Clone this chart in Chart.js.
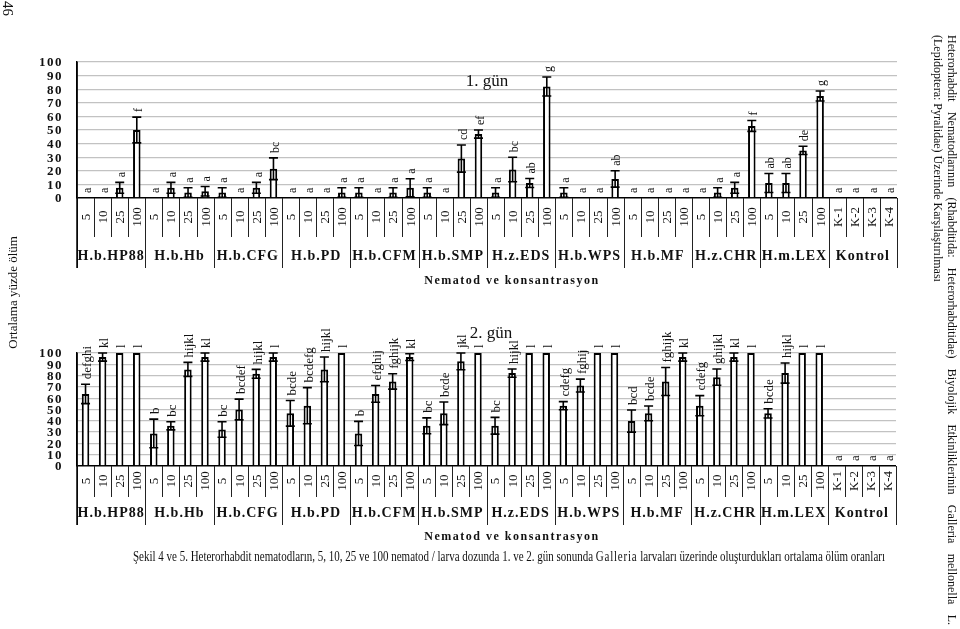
<!DOCTYPE html>
<html>
<head>
<meta charset="utf-8">
<script src="https://cdn.jsdelivr.net/npm/chart.js@4.4.0/dist/chart.umd.min.js"></script>
<style>
  body { margin:0; width:960px; height:629px; overflow:hidden; position:relative; background:#fff; color:#111; font-family:'Liberation Serif', serif; }
  canvas { position:absolute; left:0; }
  .t { position:absolute; white-space:nowrap; }
  .v { position:absolute; writing-mode:vertical-rl; white-space:nowrap; }
</style>
</head>
<body>
<canvas id="day1" width="960" height="300" style="top:0"></canvas>
<canvas id="day2" width="960" height="260" style="top:300px"></canvas>

<div class="v" style="left:0;top:1px;font-size:15px;line-height:16px">46</div>
<div class="v" style="left:5px;top:236px;font-size:13px;line-height:16px;transform:rotate(180deg)">Ortalama yüzde ölüm</div>
<div class="t" style="left:487px;top:81px;font-size:17px;transform:translate(-50%,-50%)">1. gün</div>
<div class="t" style="left:491px;top:333px;font-size:17px;transform:translate(-50%,-50%)">2. gün</div>
<div class="t" style="left:512px;top:280px;font-size:12px;font-weight:bold;letter-spacing:1.5px;transform:translate(-50%,-50%)">Nematod ve konsantrasyon</div>
<div class="t" style="left:512px;top:536px;font-size:12px;font-weight:bold;letter-spacing:1.5px;transform:translate(-50%,-50%)">Nematod ve konsantrasyon</div>
<div class="t" id="cap" style="left:133px;top:549px;font-size:14px;transform-origin:0 0">Şekil 4 ve 5. Heterorhabdit nematodların, 5, 10, 25 ve 100 nematod / larva dozunda 1. ve 2. gün sonunda <span style="letter-spacing:1px">Galleria</span> larvaları üzerinde oluşturdukları ortalama ölüm oranları</div>
<div class="v" style="left:945px;top:35px;height:590px;font-size:12px;line-height:14px;text-align:justify;text-align-last:justify">Heterorhabdit Nematodlarının (Rhabditida: Heterorhabditidae) Biyolojik Etkinliklerinin Galleria mellonella L.</div>
<div class="v" style="left:931px;top:35px;font-size:12px;line-height:14px">(Lepidoptera: Pyralidae) Üzerinde Karşılaştırılması</div>

<script>
// groups and doses
const groups = ['H.b.HP88','H.b.Hb','H.b.CFG','H.b.PD','H.b.CFM','H.b.SMP','H.z.EDS','H.b.WPS','H.b.MF','H.z.CHR','H.m.LEX','Kontrol'];
const doses = ['5','10','25','100'];
const controlDoses = ['K-1','K-2','K-3','K-4'];
const yTicks = [0,10,20,30,40,50,60,70,80,90,100];

// 1. gün
const day1Values = [0,0,7.5,50, 0,7.5,4,5, 4,0,7.5,21.5, 0,0,0,4, 4,0,4,7.5, 4,0,29,47, 4,21,11,82, 4,0,0,14, 0,0,0,0, 0,4,7.5,53, 11,11,35,75, 0,0,0,0];
const day1Err = [0,0,4,9.5, 0,4,3.5,3.5, 3.5,0,4,8, 0,0,0,3.5, 3.5,0,3.5,6.7, 3.5,0,10,3, 3.5,9,3.3,7, 3.5,0,0,6, 0,0,0,0, 0,3.5,4,4, 7,7,3,3.7, 0,0,0,0];
const day1Letters = ['a','a','a','f', 'a','a','a','a', 'a','a','a','bc', 'a','a','a','a', 'a','a','a','a', 'a','a','cd','ef', 'a','bc','ab','g', 'a','a','a','ab', 'a','a','a','a', 'a','a','a','f', 'ab','ab','de','g', 'a','a','a','a'];

// 2. gün
const day2Values = [63.8,96.4,100,100, 28.8,35.6,85.5,96.4, 32.3,50,81.6,96.4, 46.6,53.4,85.5,100, 28.8,63.8,74.8,96.4, 35.6,46.6,92.6,100, 35.6,82.2,100,100, 53.4,71.2,100,100, 39.8,46.6,74.8,96.4, 53.4,78.6,96.4,100, 46.6,82.2,100,100, 0,0,0,0];
const day2Err = [8.6,3.6,0,0, 12.7,3.6,6.2,3.6, 6.9,9.2,3.9,3.6, 11.3,16,11,0, 10.7,7.4,6.8,3, 7,10,7.4,0, 7.4,3.6,0,0, 3.6,5.7,0,0, 9.8,6.5,12.4,3.6, 8.9,7.2,3.6,0, 4.1,8.9,0,0, 0,0,0,0];
const day2Letters = ['defghi','kl','l','l', 'b','bc','hijkl','kl', 'bc','bcdef','hijkl','l', 'bcde','bcdefg','hijkl','l', 'b','efghij','fghijk','kl', 'bc','bcde','jkl','l', 'bc','hijkl','l','l', 'cdefg','fghij','l','l', 'bcd','bcde','fghijk','kl', 'cdefg','ghijkl','kl','l', 'bcde','hijkl','l','l', 'a','a','a','a'];

const categories = [];
const catGroup = [];
groups.forEach((g, gi) => {
  const d = g === 'Kontrol' ? controlDoses : doses;
  d.forEach(x => { categories.push(x); catGroup.push(gi); });
});

const serif = "'Liberation Serif', serif";

// error bars + letters
const marksPlugin = {
  id: 'marks',
  afterDatasetsDraw(chart) {
    const ctx = chart.ctx, y = chart.scales.y;
    const o = chart.options.plugins.marks;
    const bars = chart.getDatasetMeta(0).data;
    ctx.save();
    ctx.strokeStyle = '#000';
    ctx.lineWidth = 1.6;
    bars.forEach((bar, i) => {
      const v = o.values[i], e = o.errs[i];
      let top = y.getPixelForValue(v);
      if (e > 0) {
        const yt = y.getPixelForValue(v + e), yb = y.getPixelForValue(Math.max(0, v - e));
        ctx.beginPath();
        ctx.moveTo(bar.x, yb); ctx.lineTo(bar.x, yt);
        ctx.moveTo(bar.x - 4.5, yt); ctx.lineTo(bar.x + 4.5, yt);
        ctx.moveTo(bar.x - 4.5, yb); ctx.lineTo(bar.x + 4.5, yb);
        ctx.stroke();
        top = Math.min(top, yt);
      }
      ctx.save();
      ctx.translate(bar.x + 2, top - o.gap);
      ctx.rotate(-Math.PI / 2);
      ctx.font = o.letterFont;
      ctx.fillStyle = '#111';
      ctx.textAlign = 'left';
      ctx.textBaseline = 'middle';
      ctx.fillText(o.letters[i], 0, 0);
      ctx.restore();
    });
    ctx.restore();
  }
};

// y tick labels and the category table below the axis
const tablePlugin = {
  id: 'table',
  afterDraw(chart) {
    const ctx = chart.ctx, a = chart.chartArea, x = chart.scales.x, y = chart.scales.y;
    const o = chart.options.plugins.table;
    const w = x.getPixelForValue(1) - x.getPixelForValue(0);
    ctx.save();
    if ('letterSpacing' in ctx) ctx.letterSpacing = '1.5px';
    ctx.font = 'bold 13px ' + serif;
    ctx.fillStyle = '#111';
    ctx.textAlign = 'right';
    ctx.textBaseline = 'middle';
    yTicks.forEach(t => ctx.fillText(String(t), a.left - 14, y.getPixelForValue(t) + 1));

    ctx.strokeStyle = '#222';
    ctx.lineWidth = 1;
    for (let i = 0; i <= categories.length; i++) {
      const px = Math.round(x.getPixelForValue(0) - w / 2 + i * w) + 0.5;
      const edge = i === categories.length || catGroup[i] !== catGroup[i - 1];
      ctx.beginPath();
      ctx.moveTo(px, a.bottom);
      ctx.lineTo(px, a.bottom + (edge ? o.groupRow : o.tickRow));
      ctx.stroke();
    }
    ctx.lineWidth = 1.5;
    ctx.strokeStyle = '#000';
    ctx.beginPath();
    ctx.moveTo(a.left, a.top); ctx.lineTo(a.left, a.bottom + o.groupRow);
    ctx.stroke();

    if ('letterSpacing' in ctx) ctx.letterSpacing = '0px';
    ctx.font = '13px ' + serif;
    ctx.textAlign = 'center';
    categories.forEach((c, i) => {
      ctx.save();
      ctx.translate(x.getPixelForValue(i) + 1, a.bottom + o.tickLabelY);
      ctx.rotate(-Math.PI / 2);
      ctx.fillText(c, 0, 0);
      ctx.restore();
    });

    if ('letterSpacing' in ctx) ctx.letterSpacing = '1px';
    ctx.font = 'bold 14px ' + serif;
    groups.forEach((g, gi) => {
      const idx = catGroup.map((v, i) => v === gi ? i : -1).filter(i => i >= 0);
      const cx = (x.getPixelForValue(idx[0]) + x.getPixelForValue(idx[idx.length - 1])) / 2;
      ctx.fillText(g, cx, a.bottom + o.groupLabelY);
    });
    ctx.restore();
  }
};

function makeChart(id, values, errs, letters, geo) {
  return new Chart(document.getElementById(id), {
    type: 'bar',
    data: {
      labels: categories,
      datasets: [{
        data: values,
        backgroundColor: '#fff',
        borderColor: '#000',
        borderWidth: 2,
        borderSkipped: 'start',
        barPercentage: 0.44,
        categoryPercentage: 1
      }]
    },
    options: {
      responsive: false,
      animation: false,
      events: [],
      layout: { padding: { top: geo.top, bottom: geo.bottom, left: 0, right: geo.right } },
      scales: {
        x: { display: false },
        y: {
          min: 0, max: 100,
          ticks: { stepSize: 10, display: false },
          grid: {
            drawTicks: false,
            color: c => c.tick && c.tick.value === 0 ? '#000' : '#c2c2c2',
            lineWidth: c => c.tick && c.tick.value === 0 ? 1.5 : 1.3
          },
          border: { color: '#000', width: 1.5 },
          afterFit: s => { s.width = 77; }
        }
      },
      plugins: {
        legend: { display: false },
        tooltip: { enabled: false },
        marks: { values: values, errs: errs, letters: letters, gap: 5, letterFont: geo.letterFont },
        table: geo.table
      }
    },
    plugins: [marksPlugin, tablePlugin]
  });
}

makeChart('day1', day1Values, day1Err, day1Letters, {
  top: 62, bottom: 102, right: 63, letterFont: '12px ' + serif,
  table: { tickRow: 39, groupRow: 70, groupLabelY: 58, tickLabelY: 19 }
});
makeChart('day2', day2Values, day2Err, day2Letters, {
  top: 53, bottom: 94, right: 64, letterFont: '13px ' + serif,
  table: { tickRow: 31, groupRow: 59, groupLabelY: 47, tickLabelY: 15 }
});

const cap = document.getElementById('cap');
cap.style.transform = 'scaleX(' + (752 / cap.offsetWidth) + ')';
</script>
</body>
</html>
